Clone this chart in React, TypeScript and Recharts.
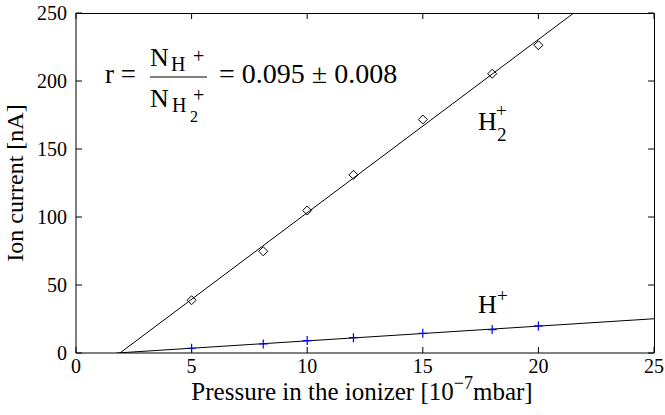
import React from "react";
import { ComposedChart, XAxis, YAxis, Scatter, Line, Customized } from "recharts";

// ---- data ----
const pressure = [5, 8.1, 10, 12, 15, 18, 20];
const currentH2 = [38.8, 74.8, 104.8, 131, 171.7, 205.3, 226.3];
const currentH = [3.5, 6.6, 9.1, 11.3, 14.5, 17.2, 19.9];
const xTicks = [0, 5, 10, 15, 20, 25];
const yTicks = [0, 50, 100, 150, 200, 250];
const X_MAX = 25;
const Y_MAX = 250;

// ---- layout ----
const W = 665;
const H = 415;
const MARGIN = { top: 13, right: 11, bottom: 0, left: 0 };
const Y_AXIS_W = 76;
const X_AXIS_H = 62;
const PLOT = {
  left: MARGIN.left + Y_AXIS_W,
  right: W - MARGIN.right,
  top: MARGIN.top,
  bottom: H - MARGIN.bottom - X_AXIS_H,
};
const SERIF = "Liberation Serif, Times New Roman, serif";
const TICK_LEN = 6;

function leastSquares(xs: number[], ys: number[]) {
  const n = xs.length;
  const mx = xs.reduce((a, b) => a + b, 0) / n;
  const my = ys.reduce((a, b) => a + b, 0) / n;
  let sxy = 0;
  let sxx = 0;
  for (let i = 0; i < n; i++) {
    sxy += (xs[i] - mx) * (ys[i] - my);
    sxx += (xs[i] - mx) * (xs[i] - mx);
  }
  const m = sxy / sxx;
  return { m, b: my - m * mx };
}

function fitLine(xs: number[], ys: number[]) {
  const { m, b } = leastSquares(xs, ys);
  const x0 = -b / m;
  const x1 = Math.min(X_MAX, (Y_MAX - b) / m);
  return [
    { x: x0, y: 0 },
    { x: x1, y: m * x1 + b },
  ];
}

const h2Points = pressure.map((x, i) => ({ x, y: currentH2[i] }));
const hPoints = pressure.map((x, i) => ({ x, y: currentH[i] }));
const h2Fit = fitLine(pressure, currentH2);
const hFit = fitLine(pressure, currentH);

const Diamond = (p: any) => {
  const { cx, cy } = p;
  const r = 4.5;
  return (
    <path
      d={`M${cx},${cy - r}L${cx + r},${cy}L${cx},${cy + r}L${cx - r},${cy}Z`}
      fill="none"
      stroke="#000"
      strokeWidth={1}
    />
  );
};

const Plus = (p: any) => {
  const { cx, cy } = p;
  const r = 4.5;
  return (
    <path
      d={`M${cx - r},${cy}H${cx + r}M${cx},${cy - r}V${cy + r}`}
      fill="none"
      stroke="#0000ff"
      strokeWidth={1.2}
    />
  );
};

// top and right edges of the box frame, with inward ticks
const sx = (v: number) => PLOT.left + (v / X_MAX) * (PLOT.right - PLOT.left);
const sy = (v: number) => PLOT.bottom - (v / Y_MAX) * (PLOT.bottom - PLOT.top);
const Frame = () => (
  <svg
    width={W}
    height={H}
    style={{ position: "absolute", left: 0, top: 0, pointerEvents: "none" }}
  >
    <path
      d={`M${PLOT.left},${PLOT.top + 0.5}H${PLOT.right + 0.5}V${PLOT.bottom}`}
      stroke="#000"
      strokeWidth={1}
      fill="none"
    />
    {xTicks.map((t) => (
      <path
        key={`t${t}`}
        d={`M${sx(t)},${PLOT.top}V${PLOT.top + TICK_LEN}`}
        stroke="#000"
        strokeWidth={1}
      />
    ))}
    {yTicks.map((t) => (
      <path
        key={`r${t}`}
        d={`M${PLOT.right},${sy(t)}H${PLOT.right - TICK_LEN}`}
        stroke="#000"
        strokeWidth={1}
      />
    ))}
  </svg>
);

const Annotations = () => (
  <g style={{ fontFamily: SERIF }} fill="#000">
    {/* formula */}
    <text x={105} y={83} fontSize={27}>r =</text>
    <text x={150} y={66} fontSize={26}>N</text>
    <text x={171} y={71} fontSize={20}>H</text>
    <text x={193} y={63} fontSize={20}>+</text>
    <line x1={150} x2={207} y1={77} y2={77} stroke="#000" strokeWidth={1} />
    <text x={150} y={107} fontSize={26}>N</text>
    <text x={172} y={112} fontSize={20}>H</text>
    <text x={190} y={122} fontSize={16}>2</text>
    <text x={193} y={102} fontSize={20}>+</text>
    <text x={219} y={83} fontSize={28}>= 0.095 ± 0.008</text>

    {/* series labels */}
    <text x={478} y={130} fontSize={26}>H</text>
    <text x={497} y={141} fontSize={19}>2</text>
    <text x={496} y={117} fontSize={19}>+</text>
    <text x={478} y={313} fontSize={26}>H</text>
    <text x={497} y={302} fontSize={19}>+</text>

    {/* axis titles */}
    <text x={362} y={400} fontSize={25} textAnchor="middle">
      Pressure in the ionizer [10
      <tspan fontSize={18} dy={-11}>−7</tspan>
      <tspan dy={11}>mbar]</tspan>
    </text>
    <text
      x={23}
      y={183}
      fontSize={24}
      textAnchor="middle"
      transform="rotate(-90, 23, 183)"
    >
      Ion current [nA]
    </text>
  </g>
);

const tickStyle = { fill: "#000", fontSize: 20, fontFamily: SERIF };

export default function App() {
  return (
    <div style={{ position: "absolute", left: 0, top: 0, width: W, height: H, background: "#fff" }}>
      <ComposedChart width={W} height={H} margin={MARGIN}>
        <XAxis
          type="number"
          dataKey="x"
          domain={[0, X_MAX]}
          ticks={xTicks}
          interval={0}
          allowDataOverflow
          height={X_AXIS_H}
          tickSize={-TICK_LEN}
          tickMargin={12}
          axisLine={{ stroke: "#000", strokeWidth: 1 }}
          tickLine={{ stroke: "#000", strokeWidth: 1 }}
          tick={tickStyle}
        />
        <YAxis
          type="number"
          dataKey="y"
          domain={[0, Y_MAX]}
          ticks={yTicks}
          interval={0}
          allowDataOverflow
          width={Y_AXIS_W}
          tickSize={-TICK_LEN}
          tickMargin={15}
          axisLine={{ stroke: "#000", strokeWidth: 1 }}
          tickLine={{ stroke: "#000", strokeWidth: 1 }}
          tick={tickStyle}
        />
        <Line
          data={h2Fit}
          dataKey="y"
          type="linear"
          stroke="#000"
          strokeWidth={1}
          dot={false}
          activeDot={false}
          isAnimationActive={false}
        />
        <Line
          data={hFit}
          dataKey="y"
          type="linear"
          stroke="#000"
          strokeWidth={1}
          dot={false}
          activeDot={false}
          isAnimationActive={false}
        />
        <Scatter
          data={h2Points}
          dataKey="y"
          shape={Diamond}
          isAnimationActive={false}
        />
        <Scatter
          data={hPoints}
          dataKey="y"
          shape={Plus}
          isAnimationActive={false}
        />
        <Customized component={<Annotations />} />
      </ComposedChart>
      <Frame />
    </div>
  );
}
